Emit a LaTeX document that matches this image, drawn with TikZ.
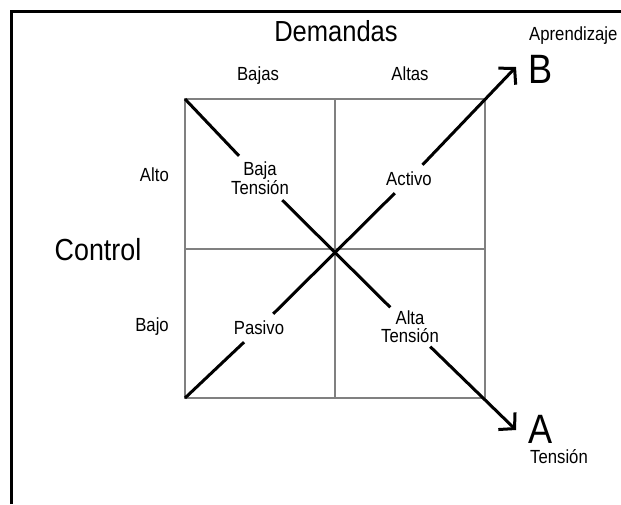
\documentclass[tikz,border=0pt]{standalone}
\usepackage{fontspec}
\setmainfont{Liberation Sans}[FakeStretch=0.88]
\usetikzlibrary{arrows.meta}
\begin{document}
\begin{tikzpicture}[x=1pt,y=-1pt,
  gridline/.style={draw=black!50, line width=1.3pt},
  diag/.style={line width=3pt, black},
  tipd/.style={-{Straight Barb[length=11pt,width=24pt]}},
  lbl/.style={font=\fontsize{19}{15}\selectfont, align=center, inner sep=6pt},
  axis/.style={font=\fontsize{19}{19}\selectfont, inner sep=0pt, anchor=base},
  big/.style={font=\fontsize{29}{29}\selectfont, inner sep=0pt, anchor=base},
  letter/.style={font=\fontsize{41}{41}\selectfont, inner sep=0pt, anchor=base}]
\useasboundingbox (0,0) rectangle (621,504);
% outer frame
\draw[line width=3pt] (11,504) -- (11,11.5) -- (621,11.5);
% square
\coordinate (tl) at (185,99);
\coordinate (tr) at (485,99);
\coordinate (bl) at (185,398);
\coordinate (br) at (485,398);
\coordinate (mt) at (335,99);
\coordinate (mb) at (335,398);
\coordinate (ml) at (185,249);
\coordinate (mr) at (485,249);
\draw[gridline] (tl) rectangle (br);
\draw[gridline] (mt) -- (mb);
\draw[gridline] (ml) -- (mr);
% axis labels
\node[big] (dem) at (336,41.5) {Demandas};
\node[axis] (bajas) at (258,80) {Bajas};
\node[axis] (altas) at (410,80) {Altas};
\node[big, font=\fontsize{30.5}{30}\selectfont] (ctrl) at (98,260) {Control};
\node[axis, anchor=base east] (alto) at (169,181.5) {Alto};
\node[axis, anchor=base east] (bajo) at (169,331.5) {Bajo};
% quadrant labels
\node[lbl, inner sep=5.5pt, font=\fontsize{19}{14.5}\selectfont] (baja) at (260,178) {Baja\\Tensión};
\node[lbl, inner sep=7pt] (activo) at (409,179) {Activo};
\node[lbl, inner sep=7pt] (pasivo) at (259,328) {Pasivo};
\node[lbl, inner sep=3.5pt, font=\fontsize{19}{18}\selectfont] (alta) at (410,327) {Alta\\Tensión};
% outcomes
\coordinate (tipA) at (516,430);
\coordinate (tipB) at (516,67);
\node[letter] (B) at (541,83) {B};
\node[axis, anchor=base west] (apr) at (529,40) {Aprendizaje};
\node[letter] (A) at (541,443) {A};
\node[axis, anchor=base west] (ten) at (530,463.5) {Tensión};
% diagonals
\draw[diag] (tl) -- (baja);
\draw[diag] (baja) -- (alta);
\draw[diag, tipd] (alta) -- (tipA);
\draw[diag] (bl) -- (pasivo);
\draw[diag] (pasivo) -- (activo);
\draw[diag, tipd] (activo) -- (tipB);
\end{tikzpicture}
\end{document}
